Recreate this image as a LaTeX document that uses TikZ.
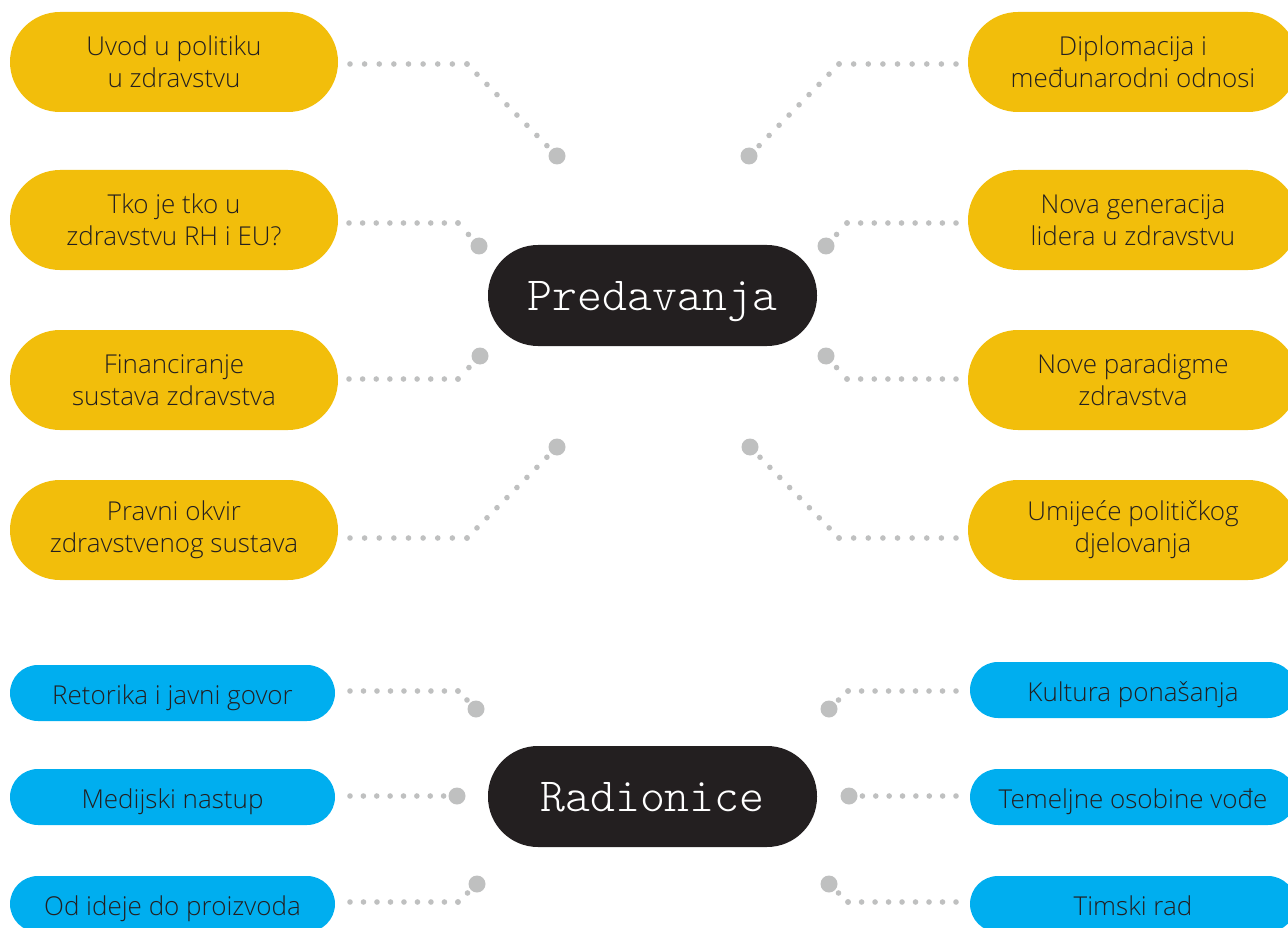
\documentclass[tikz,border=0pt]{standalone}
\usepackage{fontspec}
\setmainfont{Open Sans}[UprightFont={* Light}]
\newfontfamily\monof{Latin Modern Mono Light}
\usetikzlibrary{calc}
\definecolor{ylw}{HTML}{F2BE0B}
\definecolor{blu}{HTML}{00AEEF}
\definecolor{hubc}{HTML}{231F20}
\definecolor{txt}{HTML}{231F20}
\definecolor{dotc}{HTML}{BFC0C0}
\tikzset{
  ybox/.style={fill=ylw, rounded corners=50pt, minimum width=328pt, minimum height=100pt, inner sep=0pt, align=center, text=txt, font=\fontsize{26}{32}\selectfont},
  bbox/.style={fill=blu, rounded corners=28pt, minimum width=325pt, minimum height=56pt, inner sep=0pt, align=center, text=txt, text height=28pt, text depth=6pt, font=\fontsize{26}{32}\selectfont},
  hub/.style={fill=hubc, rounded corners=50pt, minimum width=329pt, minimum height=101pt, inner sep=0pt, text=white, text height=41pt, text depth=10.5pt, font=\monof\fontsize{47.5}{50}\selectfont},
  bigdot/.style={circle, fill=dotc, minimum size=17pt, inner sep=0pt},
  dotrun/.style={draw=dotc, line width=5.6pt, line cap=round, dash pattern=on 0pt off #1},
}
\begin{document}
\begin{tikzpicture}[x=1pt,y=-1pt]
\useasboundingbox (0,0) rectangle (1288,928);
\clip (0,0) rectangle (1288,928);
% hubs
\node[hub] (pred) at (652.5,295.5) {Predavanja};
\node[hub] (rad) at (652.5,796.5) {Radionice};
% yellow boxes
\node[ybox] (y1) at (174,62) {Uvod u politiku\\u zdravstvu};
\node[ybox] (y2) at (174,220) {Tko je tko u\\zdravstvu RH i EU?};
\node[ybox] (y3) at (174,380) {Financiranje\\sustava zdravstva};
\node[ybox] (y4) at (174,530) {Pravni okvir\\zdravstvenog sustava};
\node[ybox, minimum width=330pt] (y5) at (1133,62) {Diplomacija i\\međunarodni odnosi};
\node[ybox, minimum width=330pt] (y6) at (1133,220) {Nova generacija\\lidera u zdravstvu};
\node[ybox, minimum width=330pt] (y7) at (1133,380) {Nove paradigme\\zdravstva};
\node[ybox, minimum width=330pt] (y8) at (1133,530) {Umijeće političkog\\djelovanja};
% blue boxes
\node[bbox] (b1) at (172.5,693) {Retorika i javni govor};
\node[bbox] (b2) at (172.5,797) {Medijski nastup};
\node[bbox] (b3) at (172.5,904) {Od ideje do proizvoda};
\node[bbox, minimum width=326pt] (b4) at (1133,690) {Kultura ponašanja};
\node[bbox, minimum width=326pt] (b5) at (1133,797) {Temeljne osobine vođe};
\node[bbox, minimum width=326pt] (b6) at (1133,904) {Timski rad};
% big dots
\node[bigdot] (d1) at (557,156) {};
\node[bigdot] (d2) at (479,246) {};
\node[bigdot] (d3) at (480,356) {};
\node[bigdot] (d4) at (557,447) {};
\node[bigdot] (d5) at (749,156) {};
\node[bigdot] (d6) at (826,246) {};
\node[bigdot] (d7) at (826,356) {};
\node[bigdot] (d8) at (750,447) {};
\node[bigdot] (e1) at (476,709) {};
\node[bigdot] (e2) at (457,796) {};
\node[bigdot] (e3) at (477,884) {};
\node[bigdot] (e4) at (829,709) {};
\node[bigdot] (e5) at (849,796) {};
\node[bigdot] (e6) at (829,884) {};
% connector start points and corners
\coordinate (s1) at (350,64);  \coordinate (c1) at (467,64);
\coordinate (s2) at (349,223); \coordinate (c2) at (458,223);
\coordinate (s3) at (349,379); \coordinate (c3) at (458,379);
\coordinate (s4) at (350,538); \coordinate (c4) at (467,538);
\coordinate (s5) at (956,64);  \coordinate (c5) at (839,64);
\coordinate (s6) at (956,223); \coordinate (c6) at (847,223);
\coordinate (s7) at (956,379); \coordinate (c7) at (847,379);
\coordinate (s8) at (956,538); \coordinate (c8) at (839,538);
\coordinate (t1) at (350,691); \coordinate (k1) at (458,691);
\coordinate (t2) at (350,796);
\coordinate (t3) at (350,902); \coordinate (k3) at (458,902);
\coordinate (t4) at (956,691); \coordinate (k4) at (848,691);
\coordinate (t5) at (956,796);
\coordinate (t6) at (956,902); \coordinate (k6) at (848,902);
% connectors: Predavanja
\draw[dotrun=14.62pt] (s1) -- (c1); \draw[dotrun=14.28pt] (c1) -- (d1.center);
\draw[dotrun=13.62pt] (s2) -- (c2); \draw[dotrun=15.5pt] (c2) -- (d2.center);
\draw[dotrun=13.62pt] (s3) -- (c3); \draw[dotrun=15.85pt] (c3) -- (d3.center);
\draw[dotrun=14.62pt] (s4) -- (c4); \draw[dotrun=14.2pt] (c4) -- (d4.center);
\draw[dotrun=14.62pt] (s5) -- (c5); \draw[dotrun=14.28pt] (c5) -- (d5.center);
\draw[dotrun=13.62pt] (s6) -- (c6); \draw[dotrun=15.5pt] (c6) -- (d6.center);
\draw[dotrun=13.62pt] (s7) -- (c7); \draw[dotrun=15.5pt] (c7) -- (d7.center);
\draw[dotrun=14.62pt] (s8) -- (c8); \draw[dotrun=14.12pt] (c8) -- (d8.center);
% connectors: Radionice
\draw[dotrun=13.49pt] (t1) -- (k1); \draw[dotrun=12.7pt] (k1) -- (e1.center);
\draw[dotrun=13.37pt] (t2) -- (e2.center);
\draw[dotrun=13.49pt] (t3) -- (k3); \draw[dotrun=13.1pt] (k3) -- (e3.center);
\draw[dotrun=13.49pt] (t4) -- (k4); \draw[dotrun=13.1pt] (k4) -- (e4.center);
\draw[dotrun=13.37pt] (t5) -- (e5.center);
\draw[dotrun=13.49pt] (t6) -- (k6); \draw[dotrun=13.1pt] (k6) -- (e6.center);
\end{tikzpicture}
\end{document}
